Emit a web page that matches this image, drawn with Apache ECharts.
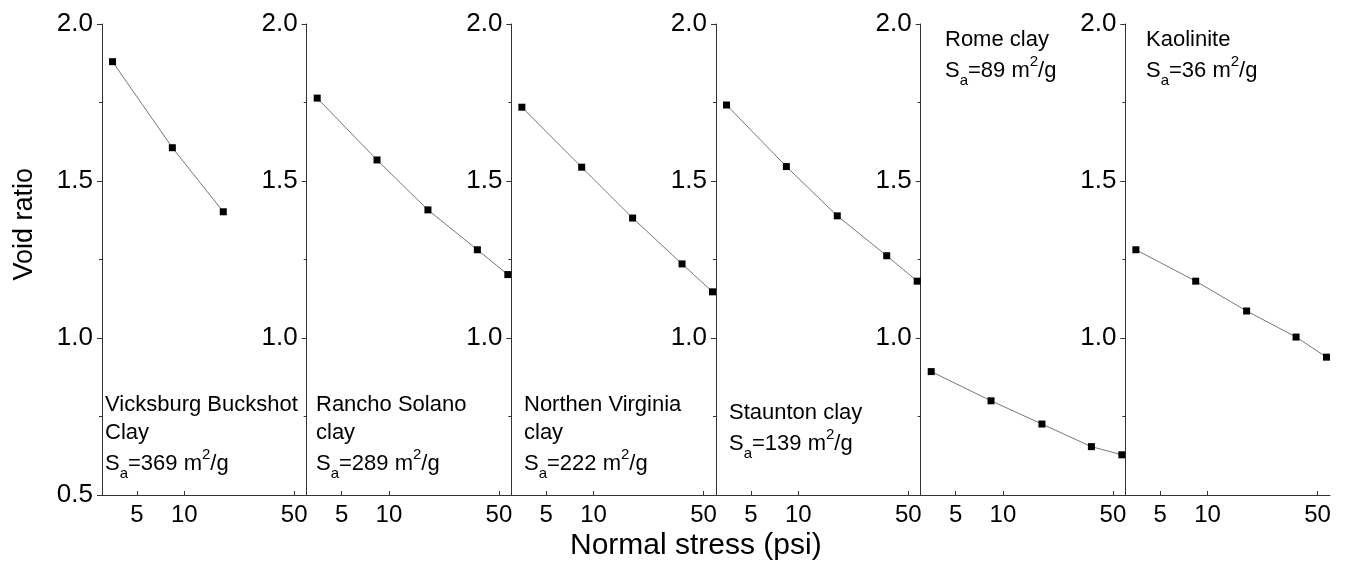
<!DOCTYPE html>
<html>
<head>
<meta charset="utf-8">
<script src="https://cdn.jsdelivr.net/npm/echarts@6/dist/echarts.min.js"></script>
<style>
html,body{margin:0;padding:0;background:#fff;}
#c{width:1347px;height:563px;}
</style>
</head>
<body>
<div id="c"></div>
<script>
// ---- data ----
const stress = [3.5, 8.4, 17.7, 36.5, 57];           // Normal stress (psi)
const vicksburg = [1.880, 1.606, 1.402];
const rancho    = [1.764, 1.567, 1.408, 1.281, 1.202];
const northern  = [1.735, 1.544, 1.382, 1.236, 1.147];
const staunton  = [1.742, 1.546, 1.389, 1.262, 1.181];
const rome      = [0.893, 0.800, 0.726, 0.654, 0.628];
const kaolinite = [1.281, 1.181, 1.086, 1.003, 0.939];
const xTicks = [5, 10, 50];
const names = [
  ['Vicksburg Buckshot', 'Clay'],
  ['Rancho Solano', 'clay'],
  ['Northen Virginia', 'clay'],
  ['Staunton clay'],
  ['Rome clay'],
  ['Kaolinite']
];
const areas = ['369', '289', '222', '139', '89', '36'];
const seriesData = [vicksburg, rancho, northern, staunton, rome, kaolinite];

// ---- layout ----
const chart = echarts.init(document.getElementById('c'), null, {renderer: 'canvas'});
const L0 = 102, PW = 204.67, TOP = 24, H = 471;
const FONT = 'Arial, "Liberation Sans", sans-serif';
const grids = [], xAxes = [], yAxes = [], series = [], graphics = [];

for (let i = 0; i < 6; i++) {
  const left = L0 + i * PW;
  grids.push({left: left, top: TOP, width: PW, height: H, containLabel: false});
  xAxes.push({
    type: 'log', gridIndex: i, min: 3, max: 60, logBase: 10,
    axisLine: {show: true, onZero: false, lineStyle: {color: '#333', width: 1}},
    axisTick: {show: true, inside: true, length: 4, customValues: xTicks, lineStyle: {color: '#333'}},
    axisLabel: {show: true, customValues: xTicks, fontSize: 24, color: '#000', fontFamily: FONT, margin: 8,
      formatter: v => String(Math.round(v))},
    splitLine: {show: false}, minorTick: {show: false}
  });
  yAxes.push({
    type: 'value', gridIndex: i, min: 0.5, max: 2.0, interval: 0.5,
    axisLine: {show: true, lineStyle: {color: '#333', width: 1}},
    axisTick: {show: true, inside: false, length: 5, lineStyle: {color: '#333'}},
    minorTick: {show: true, splitNumber: 2, length: 3, lineStyle: {color: '#333'}},
    axisLabel: {show: true, fontSize: 26, color: '#000', fontFamily: FONT, margin: 9,
      formatter: v => (i > 0 && v < 0.75) ? '' : v.toFixed(1)},
    splitLine: {show: false}
  });
  const ys = seriesData[i];
  series.push({
    type: 'line', xAxisIndex: i, yAxisIndex: i,
    data: ys.map((y, k) => [stress[k], y]),
    symbol: 'rect', symbolSize: 7, showSymbol: true,
    itemStyle: {color: '#000'},
    lineStyle: {color: '#777', width: 1},
    animation: false, silent: true
  });
}

// annotations
const rich = {
  n: {fontSize: 22, fontFamily: FONT, color: '#000', lineHeight: 28},
  m: {fontSize: 22, fontFamily: FONT, color: '#000', lineHeight: 34},
  sb: {fontSize: 15, fontFamily: FONT, color: '#000', lineHeight: 15, verticalAlign: 'bottom'},
  sp: {fontSize: 15, fontFamily: FONT, color: '#000', lineHeight: 15, verticalAlign: 'top'}
};
const annPos = [
  [105, 394], [316, 394], [524, 394], [729, 402], [945, 29], [1146, 29]
];
for (let i = 0; i < 6; i++) {
  const lines = names[i].map(s => '{n|' + s + '}');
  lines.push('{m|S}{sb|a}{m|=' + areas[i] + ' m}{sp|2}{m|/g}');
  graphics.push({
    type: 'text', left: annPos[i][0], top: annPos[i][1], silent: true,
    style: {text: lines.join('\n'), rich: rich, fill: '#000'}
  });
}
graphics.push({
  type: 'text', left: 570, top: 531, silent: true,
  style: {text: 'Normal stress (psi)', fontSize: 30, fontFamily: FONT, fill: '#000'}
});
graphics.push({
  type: 'text', silent: true, rotation: Math.PI / 2, left: 11, top: 168,
  style: {text: 'Void ratio', fontSize: 27, fontFamily: FONT, fill: '#000'}
});

chart.setOption({
  animation: false,
  backgroundColor: '#fff',
  grid: grids, xAxis: xAxes, yAxis: yAxes, series: series,
  graphic: graphics
});
</script>
</body>
</html>
